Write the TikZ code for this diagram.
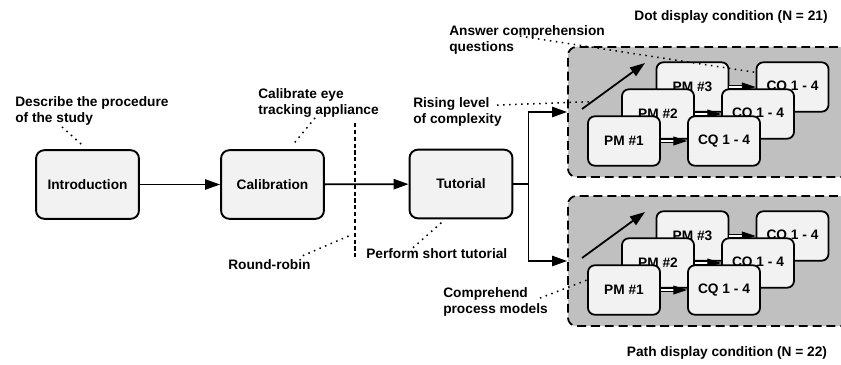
\documentclass[tikz,border=0pt]{standalone}
\usepackage{fontspec}
\setmainfont{Liberation Sans}
\usetikzlibrary{arrows.meta,calc,fit}
\definecolor{areagray}{HTML}{C0C0C0}
\definecolor{boxgray}{HTML}{F2F2F2}

\begin{document}
\begin{tikzpicture}[x=0.729pt,y=-0.729pt,font=\bfseries,
  stage/.style={draw,fill=boxgray,line width=1.4pt,rounded corners=6pt,minimum width=75pt,minimum height=50pt},
  trialbox/.style={draw,fill=boxgray,line width=1.3pt,rounded corners=5pt,minimum width=52.5pt,minimum height=36pt},
  area/.style={draw,fill=areagray,line width=1.3pt,dash pattern=on 6.5pt off 3.6pt,rounded corners=6pt,inner sep=0pt},
  flow/.style={line width=1.3pt,-{Triangle[length=11pt,width=7.5pt]}},
  pairflow/.style={double,double distance=1.2pt,line width=0.8pt,-{Triangle[length=10pt,width=6.5pt]}},
  notelink/.style={line width=1.1pt,dash pattern=on 1.1pt off 3.3pt},
  notetext/.style={anchor=west,align=left,inner sep=0pt}]
\useasboundingbox (0,0) rectangle (841,365);
\clip (0,0) rectangle (841,365);
\newcommand{\trial}[4]{% name, x, y, number
  \node [trialbox] (#1pm) at (#2,#3) {PM \##4};
  \node [trialbox] (#1cq) at (#2+100,#3) {CQ 1 - 4};
  \draw [pairflow] (#1pm) -- (#1cq);
}
\newcommand{\condition}[3]{% name, upper left corner
  \node [area,fit={(#2,#3) (#2+292,#3+130)}] (#1area) {};
  \trial{#13}{#2+124.5}{#3+40}{3}
  \trial{#12}{#2+90}{#3+67}{2}
  \trial{#11}{#2+56}{#3+94}{1}
  \coordinate (#1rise) at (#2+14,#3+62);
  \coordinate (#1risetop) at (#2+77,#3+16);
  \draw [flow] (#1rise) -- (#1risetop);
}

\condition{dot}{568}{47}
\condition{path}{568}{196}
\node (dottitle) at (731,17) {Dot display condition (N = 21)};
\node (pathtitle) at (727,353) {Path display condition (N = 22)};

\node [stage] (intro) at (87.5,184.5) {Introduction};
\node [stage] (calib) at (272.5,184.5) {Calibration};
\node [stage] (tut) at (461,184) {Tutorial};
\draw [flow] (intro) -- (calib);
\draw [flow] (calib) -- (tut);
\draw [flow] (tut.east) -- ++(15,0) |- (dotarea.west);
\draw [flow] (tut.east) -- ++(15,0) |- (patharea.west);

% round-robin divider
\coordinate (divtop) at (355,123);
\coordinate (divbot) at (355,258);
\draw [line width=2pt,dash pattern=on 3pt off 2pt] (divtop) -- (divbot);

\node [notetext] (describe) at (15,111) {Describe the procedure\\of the study};
\draw [notelink] ($(describe.south west)+(47,1)$) -- ($(intro.north)+(-4,-3)$);
\node [notetext] (calibnote) at (258,103) {Calibrate eye\\tracking appliance};
\draw [notelink] ($(calibnote.south west)+(57,0)$) -- ($(calib.north)+(20,-4)$);
\node [notetext] (robin) at (228,265) {Round-robin};
\coordinate (robinend) at (351,235);
\draw [notelink] ($(robin.north east)+(-8,-4)$) -- (robinend);
\node [notetext] (perform) at (366,254) {Perform short tutorial};
\draw [notelink] ($(perform.north west)+(47,-1)$) -- ($(tut.south)+(-18,2)$);
\node [notetext] (rising) at (413,112) {Rising level\\of complexity};
\draw [notelink] ($(rising.north west)+(84,8)$) -- ($(dotrise)!0.16!(dotrisetop)$);
\node [notetext] (answer) at (449,40) {Answer comprehension\\questions};
\draw [notelink] ($(answer.north west)+(71,11)$) -- ($(dot3cq.north west)+(0,11)$);
\node [notetext] (comprehend) at (443,302) {Comprehend\\process models};
\draw [notelink] ($(comprehend.north west)+(97,11)$) -- ($(path1pm.west)+(0,-10)$);
\end{tikzpicture}
\end{document}
